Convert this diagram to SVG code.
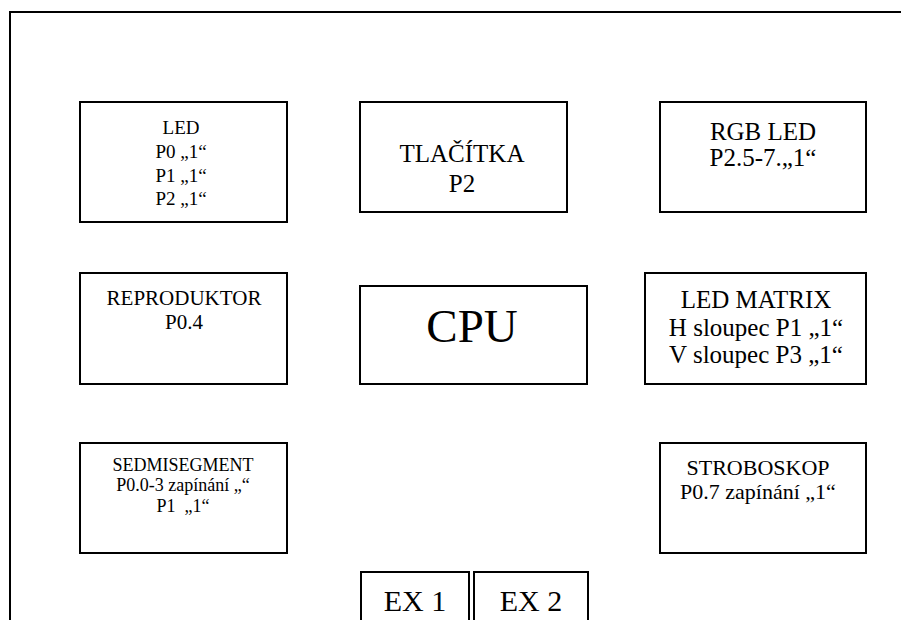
<svg xmlns="http://www.w3.org/2000/svg" width="901" height="620" viewBox="0 0 901 620">
<style>
.box{fill:#fff;stroke:#000;stroke-width:2}
.frame{fill:none;stroke:#000;stroke-width:2}
.t{fill:#000;text-anchor:middle}
</style>
<rect width="901" height="620" fill="#fff"/>
<path class="frame" d="M10,625 V12 H905"/>
<g font-family="Liberation Serif, Times New Roman, serif">
<g id="led">
<rect class="box" x="80" y="102" width="207" height="120"/>
<text class="t" font-size="19"><tspan x="181" y="134">LED</tspan><tspan x="181" y="158">P0 „1“</tspan><tspan x="181" y="182">P1 „1“</tspan><tspan x="181" y="205">P2 „1“</tspan></text>
</g>
<g id="tlacitka">
<rect class="box" x="360" y="102" width="207" height="110"/>
<text class="t" font-size="25"><tspan x="462" y="162">TLAČÍTKA</tspan><tspan x="462" y="192">P2</tspan></text>
</g>
<g id="rgbled">
<rect class="box" x="660" y="102" width="206" height="110"/>
<text class="t" font-size="25"><tspan x="763" y="140">RGB LED</tspan><tspan x="763" y="166">P2.5-7.„1“</tspan></text>
</g>
<g id="reproduktor">
<rect class="box" x="80" y="273" width="207" height="111"/>
<text class="t" font-size="21"><tspan x="184" y="305">REPRODUKTOR</tspan><tspan x="184" y="329">P0.4</tspan></text>
</g>
<g id="cpu">
<rect class="box" x="360" y="286" width="227" height="98"/>
<text class="t" font-size="47" x="472" y="342">CPU</text>
</g>
<g id="ledmatrix">
<rect class="box" x="645" y="273" width="221" height="111"/>
<text class="t" font-size="25"><tspan x="756" y="308">LED MATRIX</tspan><tspan x="756" y="336">H sloupec P1 „1“</tspan><tspan x="756" y="363">V sloupec P3 „1“</tspan></text>
</g>
<g id="sedmisegment">
<rect class="box" x="80" y="443" width="207" height="110"/>
<text class="t" font-size="18"><tspan x="183" y="471">SEDMISEGMENT</tspan><tspan x="183" y="491">P0.0-3 zapínání „“</tspan><tspan x="183" y="512" style="white-space:pre">P1  „1“</tspan></text>
</g>
<g id="stroboskop">
<rect class="box" x="660" y="443" width="206" height="110"/>
<text class="t" font-size="22"><tspan x="758" y="475">STROBOSKOP</tspan><tspan x="758" y="499">P0.7 zapínání „1“</tspan></text>
</g>
<g id="ex1">
<rect class="box" x="361" y="572" width="108" height="60"/>
<text class="t" font-size="30" x="415" y="611">EX 1</text>
</g>
<g id="ex2">
<rect class="box" x="474" y="572" width="114" height="60"/>
<text class="t" font-size="30" x="531" y="611">EX 2</text>
</g>
</g>
<g id="connectors"></g>
</svg>
